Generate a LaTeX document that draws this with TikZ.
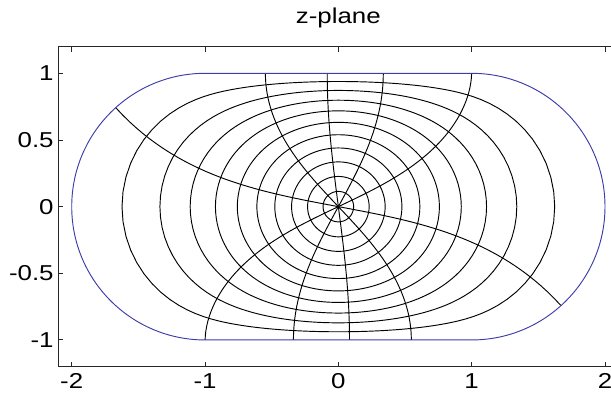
\documentclass[tikz,border=0pt]{standalone}
\usepackage{fontspec}
\setmainfont{Liberation Sans}[FakeStretch=1.2]

\definecolor{rimblue}{RGB}{60,60,170}

\tikzset{
	gridline/.style={line width=0.5pt, black},
	rim/.style={line width=0.5pt, rimblue},
	axisbox/.style={line width=0.5pt, black!85},
	ticklabel/.style={font=\fontsize{11.5}{13}\selectfont, inner sep=0pt},
	% conformal map of the unit disk onto the stadium (odd series, real coefficients)
	declare function={
		zx(\rad,\ang)=1.2574*\rad*cos(\ang)+0.37884*\rad^3*cos(3*\ang)+0.18493*\rad^5*cos(5*\ang)
			+0.09585*\rad^7*cos(7*\ang)+0.04752*\rad^9*cos(9*\ang)+0.02127*\rad^11*cos(11*\ang)
			+0.00822*\rad^13*cos(13*\ang)+0.00277*\rad^15*cos(15*\ang)+0.0011*\rad^17*cos(17*\ang)
			+0.00084*\rad^19*cos(19*\ang)+0.00077*\rad^21*cos(21*\ang)+0.00052*\rad^23*cos(23*\ang);
		zy(\rad,\ang)=1.2574*\rad*sin(\ang)+0.37884*\rad^3*sin(3*\ang)+0.18493*\rad^5*sin(5*\ang)
			+0.09585*\rad^7*sin(7*\ang)+0.04752*\rad^9*sin(9*\ang)+0.02127*\rad^11*sin(11*\ang)
			+0.00822*\rad^13*sin(13*\ang)+0.00277*\rad^15*sin(15*\ang)+0.0011*\rad^17*sin(17*\ang)
			+0.00084*\rad^19*sin(19*\ang)+0.00077*\rad^21*sin(21*\ang)+0.00052*\rad^23*sin(23*\ang);
	}
}

\begin{document}
\begin{tikzpicture}[x=2.5cm, y=2.5cm]
	\clip (-2.538,-1.457) rectangle (2.045,1.55);
	
	% --- ảnh của các đường tròn |w| = k/11 ---
	\foreach \k in {1,...,10} {
		\draw[gridline] plot[domain=0:360, samples=181] ({zx(\k/11,\x)}, {zy(\k/11,\x)}) -- cycle;
	}
	
	% --- ảnh của các tia, cách nhau 36 độ ---
	\foreach \k in {0,...,9} {
		\draw[gridline] plot[domain=0.001:1, samples=51] ({zx(\x,36*\k-10.6)}, {zy(\x,36*\k-10.6)});
	}
	
	% --- biên (sân vận động) ---
	\draw[rim] (-1,-1) -- (1,-1) arc[start angle=-90, end angle=90, radius=1]
		-- (-1,1) arc[start angle=90, end angle=270, radius=1] -- cycle;
	
	% --- khung trục và vạch chia ---
	\draw[axisbox] (-2.1,-1.2) rectangle (2.1,1.2);
	\foreach \x in {-2,...,2} {
		\draw[axisbox] (\x,-1.2) -- (\x,-1.1625); % vạch dưới
		\draw[axisbox] (\x,1.2) -- (\x,1.1625); % vạch trên
		\node[ticklabel, anchor=base] (xl\x) at (\x,-1.361) {\x};
	}
	\foreach \y [count=\i] in {-1,-0.5,0,0.5,1} {
		\draw[axisbox] (-2.1,\y) -- (-2.0625,\y); % vạch trái
		\draw[axisbox] (2.1,\y) -- (2.0625,\y); % vạch phải
		\node[ticklabel, anchor=east] (yl\i) at (-2.133,\y) {\y};
	}
	
	\node[ticklabel, anchor=base] (title) at (0,1.376) {z-plane};
\end{tikzpicture}
\end{document}
